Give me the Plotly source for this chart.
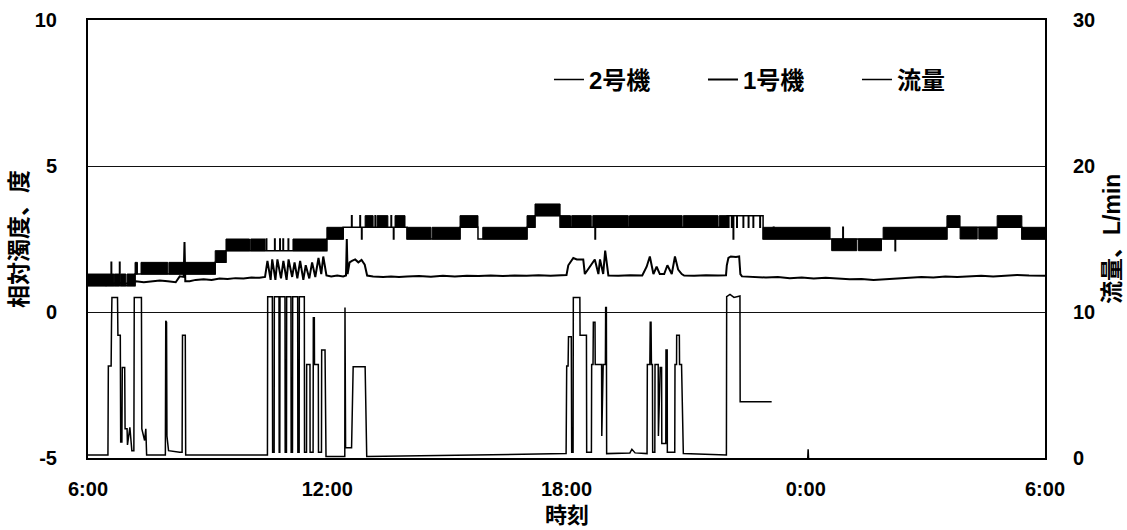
import plotly.graph_objects as go

# ---------------- data ----------------
hour_ticks = [6, 12, 18, 24, 30]
hour_labels = ["6:00", "12:00", "18:00", "0:00", "6:00"]
turb_ticks = [-5, 0, 5, 10]
turb_labels = ["-5", "0", "5", "10"]
flow_ticks = [0, 10, 20, 30]

# 2号機: step changes (hour, relative turbidity)
unit2_steps = [
    (6.00, 0.9), (6.58, 1.7), (6.592, 0.9), (6.79, 1.7), (6.802, 0.9),
    (7.18, 1.3), (8.26, 1.3), (9.19, 1.7), (9.46, 2.1), (10.44, 2.1),
    (10.47, 2.5), (10.482, 2.1), (10.68, 2.5), (10.692, 2.1), (10.81, 2.5),
    (10.822, 2.1), (10.89, 2.5), (10.902, 2.1), (11.02, 2.5), (11.032, 2.1),
    (11.14, 2.1), (11.99, 2.5), (12.40, 2.9), (12.61, 3.3), (12.622, 2.9),
    (12.82, 3.3), (12.832, 2.9), (12.86, 2.5), (12.872, 2.9), (13.20, 3.3),
    (13.212, 2.9), (13.60, 3.3), (13.612, 2.9), (13.66, 2.5), (13.672, 2.9),
    (14.00, 2.5), (15.33, 2.9), (15.78, 2.5), (17.01, 2.9), (17.21, 3.3),
    (17.84, 2.9), (18.715, 2.5), (18.727, 2.9), (22.03, 3.3), (22.06, 2.9),
    (22.072, 3.3), (22.14, 2.9), (22.152, 3.3), (22.18, 2.5), (22.192, 3.3),
    (22.27, 2.9), (22.282, 3.3), (22.43, 2.9), (22.442, 3.3), (22.56, 2.9),
    (22.572, 3.3), (22.68, 2.9), (22.692, 3.3), (22.85, 2.9), (22.862, 3.3),
    (22.93, 2.5), (23.19, 2.9), (23.202, 2.5), (24.61, 2.5), (24.93, 2.9),
    (24.942, 2.5), (25.94, 2.5), (26.24, 2.1), (26.252, 2.5), (27.54, 2.9),
    (27.87, 2.9), (28.80, 2.9), (29.42, 2.5), (30.00, 2.5),
]

# 2号機: periods of rapid toggling between two levels (start, end, low, high)
unit2_bands = [
    (6.00, 6.65, 0.9, 1.3), (6.66, 6.78, 0.9, 1.3), (6.82, 6.95, 0.9, 1.3),
    (6.98, 7.18, 0.9, 1.3), (7.18, 7.24, 1.3, 1.7), (7.33, 8.00, 1.3, 1.7),
    (8.03, 9.19, 1.3, 1.7), (9.19, 9.46, 1.7, 2.1), (9.46, 10.05, 2.1, 2.5),
    (10.08, 10.44, 2.1, 2.5), (11.14, 11.99, 2.1, 2.5), (11.99, 12.40, 2.5, 2.9),
    (12.95, 13.15, 2.9, 3.3), (13.25, 13.52, 2.9, 3.3), (13.70, 13.95, 2.9, 3.3),
    (14.00, 14.60, 2.5, 2.9), (14.63, 15.33, 2.5, 2.9), (15.33, 15.78, 2.9, 3.3),
    (15.90, 17.01, 2.5, 2.9), (17.01, 17.21, 2.9, 3.3), (17.21, 17.84, 3.3, 3.7),
    (17.84, 18.10, 2.9, 3.3), (18.13, 18.62, 2.9, 3.3), (18.66, 19.55, 2.9, 3.3),
    (19.58, 20.90, 2.9, 3.3), (20.93, 21.80, 2.9, 3.3), (21.83, 22.03, 2.9, 3.3),
    (22.93, 24.61, 2.5, 2.9), (24.65, 25.28, 2.1, 2.5), (25.32, 25.90, 2.1, 2.5),
    (25.94, 27.54, 2.5, 2.9), (27.54, 27.87, 2.9, 3.3), (27.87, 28.30, 2.5, 2.9),
    (28.34, 28.80, 2.5, 2.9), (28.80, 29.42, 2.9, 3.3), (29.42, 30.00, 2.5, 2.9),
]

# 1号機: relative turbidity (hour, value)
unit1_series = [
    (6.00, 1.00), (6.15, 0.95), (6.30, 0.98), (6.45, 0.92), (6.60, 0.95),
    (6.75, 1.02), (6.90, 0.95), (7.05, 1.00), (7.20, 1.05), (7.40, 1.02),
    (7.60, 1.05), (7.80, 1.08), (8.00, 1.05), (8.20, 1.02), (8.30, 1.22),
    (8.40, 1.20), (8.42, 2.40), (8.44, 1.05), (8.55, 1.05), (8.70, 1.10),
    (8.90, 1.12), (9.10, 1.10), (9.30, 1.15), (9.50, 1.13), (9.70, 1.16),
    (9.90, 1.15), (10.10, 1.18), (10.30, 1.17), (10.44, 1.20),
    (10.50, 1.75), (10.58, 1.10), (10.62, 1.80), (10.70, 1.10), (10.75, 1.80),
    (10.84, 1.15), (10.90, 1.75), (10.98, 1.10), (11.03, 1.80), (11.12, 1.20),
    (11.18, 1.70), (11.25, 1.15), (11.32, 1.75), (11.40, 1.10), (11.46, 1.60),
    (11.55, 1.15), (11.62, 1.70), (11.70, 1.20), (11.78, 1.85), (11.85, 1.30),
    (11.90, 1.90), (11.98, 1.25),
    (12.10, 1.22), (12.25, 1.25), (12.40, 1.22), (12.47, 1.25), (12.49, 2.50),
    (12.51, 1.30), (12.56, 1.70), (12.62, 1.75), (12.70, 1.80), (12.78, 1.70),
    (12.86, 1.78), (12.94, 1.62), (13.00, 1.25), (13.15, 1.22), (13.40, 1.20),
    (13.60, 1.22), (13.80, 1.20), (14.00, 1.22), (14.30, 1.23), (14.60, 1.21),
    (14.90, 1.24), (15.20, 1.22), (15.50, 1.24), (15.80, 1.23), (16.10, 1.25),
    (16.40, 1.23), (16.70, 1.25), (17.00, 1.24), (17.30, 1.26), (17.60, 1.24),
    (17.90, 1.26),
    (18.00, 1.27), (18.045, 1.60), (18.17, 1.85), (18.26, 1.80), (18.42, 1.80),
    (18.46, 1.30), (18.59, 1.55), (18.71, 1.80), (18.80, 1.30), (18.84, 1.80),
    (18.92, 1.30), (18.97, 2.10), (19.05, 1.25), (19.30, 1.24), (19.60, 1.26),
    (19.90, 1.25),
    (20.01, 1.55), (20.09, 1.90), (20.18, 1.30), (20.26, 1.55), (20.34, 1.30),
    (20.45, 1.30), (20.53, 1.60), (20.64, 1.30), (20.72, 1.90), (20.80, 1.45),
    (20.89, 1.30), (20.95, 1.25), (21.20, 1.24), (21.50, 1.26), (21.80, 1.25),
    (22.00, 1.26),
    (22.02, 1.60), (22.06, 1.85), (22.12, 1.90), (22.25, 1.88), (22.33, 1.90),
    (22.36, 1.30), (22.40, 1.22), (22.70, 1.20), (23.00, 1.18), (23.30, 1.20),
    (23.60, 1.16), (23.90, 1.18), (24.20, 1.15), (24.50, 1.17), (24.80, 1.14),
    (25.10, 1.12), (25.40, 1.13), (25.70, 1.10), (26.00, 1.12), (26.30, 1.15),
    (26.60, 1.17), (26.90, 1.20), (27.20, 1.18), (27.50, 1.22), (27.80, 1.20),
    (28.10, 1.22), (28.40, 1.24), (28.70, 1.22), (29.00, 1.25), (29.30, 1.27),
    (29.60, 1.25), (30.00, 1.24),
]

# 流量 (hour, L/min); None = no record
flow_series = [
    (6.00, 0.2), (6.50, 0.2), (6.51, 6.3), (6.58, 6.3), (6.59, 9.3), (6.60, 11.0),
    (6.74, 11.0), (6.75, 8.4), (6.81, 8.4), (6.82, 1.1), (6.85, 1.1), (6.86, 6.2),
    (6.92, 6.2), (6.93, 2.0), (6.98, 2.0), (6.99, 0.9), (7.05, 2.1), (7.10, 0.5),
    (7.15, 0.5), (7.16, 11.0), (7.34, 11.0), (7.35, 2.0), (7.42, 1.2), (7.45, 2.0),
    (7.47, 0.2), (7.94, 0.2), (7.95, 9.4), (7.97, 9.3), (7.98, 1.5), (8.02, 0.5),
    (8.30, 0.4), (8.36, 0.4), (8.37, 8.4), (8.44, 8.4), (8.45, 0.2), (10.50, 0.2),
    (10.506, 11.05), (10.623, 11.05), (10.63, 0.4), (10.668, 0.4), (10.673, 11.05),
    (10.79, 11.05), (10.795, 0.4), (10.81, 0.4), (10.815, 11.05), (10.94, 11.05),
    (10.945, 0.4), (10.977, 0.4), (10.982, 11.05), (11.09, 11.05), (11.095, 0.4),
    (11.128, 0.4), (11.133, 11.05), (11.258, 11.05), (11.263, 0.4), (11.295, 0.4),
    (11.30, 11.05), (11.425, 11.05), (11.43, 0.4), (11.48, 0.4), (11.484, 6.4),
    (11.567, 6.4), (11.57, 0.4), (11.645, 0.4), (11.651, 9.6), (11.676, 9.6),
    (11.68, 6.4), (11.776, 6.4), (11.78, 0.4), (11.855, 0.4), (11.86, 7.4),
    (11.944, 7.4), (11.969, 0.1), (12.44, 0.1), (12.445, 10.3), (12.46, 0.7),
    (12.61, 0.7), (12.65, 6.25), (12.95, 6.25), (12.99, 0.1), (17.99, 0.3),
    (18.005, 6.3), (18.04, 6.3), (18.05, 8.3), (18.12, 8.3), (18.13, 0.4),
    (18.165, 0.4), (18.171, 11.0), (18.335, 11.0), (18.34, 8.4), (18.50, 8.4),
    (18.506, 0.4), (18.625, 0.4), (18.631, 6.4), (18.665, 6.4), (18.673, 9.3),
    (18.715, 9.3), (18.72, 6.4), (18.88, 6.4), (18.885, 1.5), (18.92, 6.4),
    (18.975, 6.4), (18.982, 10.3), (19.00, 10.3), (19.007, 0.3), (19.59, 0.35),
    (19.64, 0.6), (19.72, 0.35), (20.02, 0.3), (20.027, 6.4), (20.09, 6.4),
    (20.10, 9.3), (20.12, 9.3), (20.13, 6.4), (20.155, 6.4), (20.161, 0.4),
    (20.215, 0.4), (20.22, 6.4), (20.30, 6.4), (20.305, 1.5), (20.35, 6.2),
    (20.385, 6.2), (20.39, 1.0), (20.49, 1.0), (20.495, 7.4), (20.525, 7.4),
    (20.529, 0.4), (20.715, 0.4), (20.721, 6.4), (20.76, 6.4), (20.763, 8.4),
    (20.83, 8.4), (20.835, 6.4), (20.885, 6.4), (20.93, 0.3), (22.01, 0.2),
    (22.017, 11.05), (22.10, 11.2), (22.20, 11.0), (22.35, 11.1), (22.355, 3.85),
    (23.145, 3.85), None, (24.05, 0.0), (24.06, 0.6), (24.07, 0.0),
]


def split(pairs):
    xs, ys = [], []
    for p in pairs:
        if p is None:
            xs.append(None)
            ys.append(None)
        else:
            xs.append(p[0])
            ys.append(p[1])
    return xs, ys


u2x, u2y = split(unit2_steps)
u1x, u1y = split(unit1_series)
fx, fy = split(flow_series)

bx, by = [], []
for t0, t1, lo, hi in unit2_bands:
    bx += [t0, t1, t1, t0, t0, None]
    by += [lo, lo, hi, hi, lo, None]

NUMFONT = "Liberation Sans, Noto Sans CJK JP, sans-serif"
CJKFONT = "Liberation Sans, Noto Sans CJK JP, sans-serif"

fig = go.Figure()
fig.add_trace(go.Scatter(x=bx, y=by, mode="lines", fill="toself", fillcolor="black",
                         line=dict(color="black", width=1), showlegend=False,
                         legendgroup="u2", hoverinfo="skip"))
fig.add_trace(go.Scatter(x=u2x, y=u2y, mode="lines", line=dict(color="black", width=1.5, shape="hv"),
                         name="2号機", legendgroup="u2"))
fig.add_trace(go.Scatter(x=u1x, y=u1y, mode="lines", line=dict(color="black", width=2),
                         name="1号機"))
fig.add_trace(go.Scatter(x=fx, y=fy, mode="lines", line=dict(color="black", width=1.5),
                         name="流量", yaxis="y2", connectgaps=False))

tickfont = dict(family=NUMFONT, size=20, color="black", weight="bold")
titlefont = dict(family=CJKFONT, size=23, color="black", weight="bold")
legendfont = dict(family=CJKFONT, size=24, color="black", weight="bold")

fig.update_layout(
    width=1127, height=530,
    margin=dict(l=88, r=82, t=20, b=72, autoexpand=False),
    paper_bgcolor="white", plot_bgcolor="white",
    font=dict(family=CJKFONT, size=20, color="black"),
    xaxis=dict(range=[6, 30], tickvals=hour_ticks, ticktext=hour_labels,
               showgrid=False, zeroline=False, showline=True, linecolor="black",
               linewidth=2, mirror=True, ticks="", tickfont=tickfont,
               ticklabelstandoff=12),
    yaxis=dict(range=[-5, 10], tickvals=turb_ticks, ticktext=turb_labels,
               showgrid=True, gridcolor="#111111",
               gridwidth=1, zeroline=False, showline=True, linecolor="black",
               linewidth=2, mirror=True, ticks="", tickfont=tickfont,
               ticklabelstandoff=25),
    yaxis2=dict(range=[0, 30], tickvals=flow_ticks, overlaying="y", side="right",
                showgrid=False, zeroline=False, showline=True, linecolor="black",
                linewidth=2, ticks="", tickfont=tickfont, ticklabelstandoff=22),
    legend=dict(orientation="h", x=0.4817, y=0.863, xanchor="left", yanchor="middle",
                entrywidth=109, entrywidthmode="pixels", bgcolor="rgba(0,0,0,0)",
                font=legendfont, itemwidth=30),
    annotations=[
        dict(text="相対濁度、度", xref="paper", yref="paper", x=-0.072, y=0.5,
             textangle=-90, showarrow=False, xanchor="center", yanchor="middle",
             font=titlefont),
        dict(text="流量、L/min", xref="paper", yref="paper", x=1.07, y=0.5,
             textangle=-90, showarrow=False, xanchor="center", yanchor="middle",
             font=titlefont),
        dict(text="時刻", xref="paper", yref="paper", x=0.5, y=-0.132,
             showarrow=False, xanchor="center", yanchor="middle",
             font=dict(family=CJKFONT, size=22, color="black", weight="bold")),
    ],
)

fig.write_html("out.html")
